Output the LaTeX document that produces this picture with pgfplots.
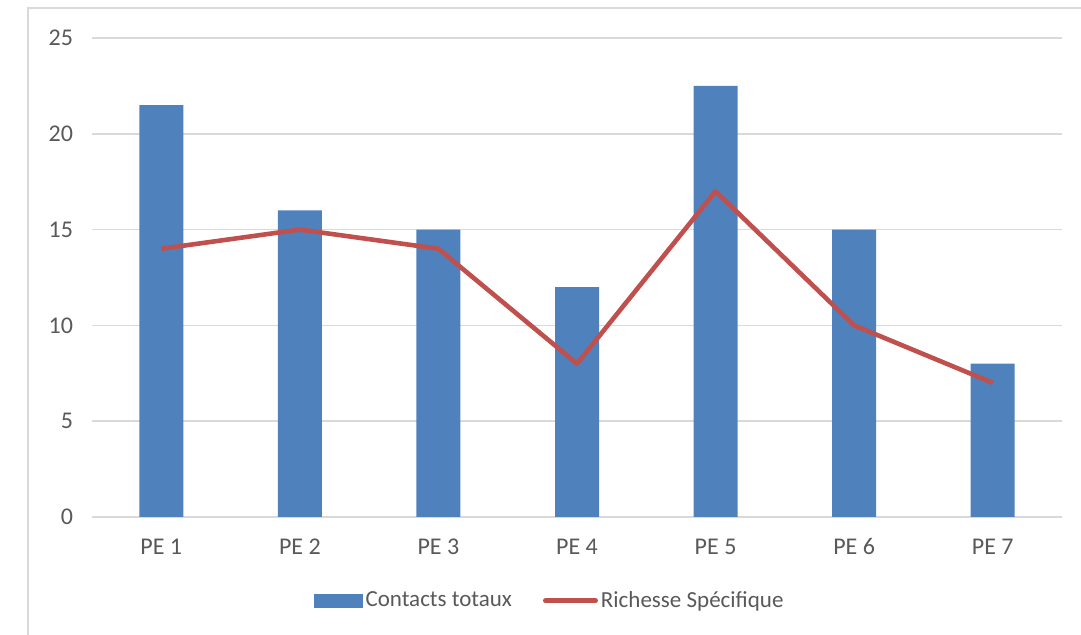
\documentclass[border=0pt]{standalone}
\usepackage{pgfplots}
\pgfplotsset{compat=1.18}
\usepackage{fontspec}
\setmainfont{Carlito}
\definecolor{barblue}{HTML}{4F81BD}
\definecolor{linered}{HTML}{C0504D}
\definecolor{gridgray}{HTML}{D9D9D9}
\definecolor{txtgray}{HTML}{595959}
\begin{document}
\begin{tikzpicture}[x=1pt,y=1pt]
\useasboundingbox (0,0) rectangle (540.5,317.5);
\draw[gridgray, line width=1pt] (14,0) -- (14,313.5) -- (540.5,313.5);
\begin{axis}[
  at={(46pt,59pt)}, anchor=south west,
  scale only axis, width=485pt, height=239.5pt,
  xmin=-0.5, xmax=6.5, ymin=0, ymax=25,
  xtick={0,1,2,3,4,5,6},
  xticklabels={PE 1,PE 2,PE 3,PE 4,PE 5,PE 6,PE 7},
  ytick={0,5,10,15,20,25},
  axis line style={draw=none},
  major tick style={draw=none},
  ymajorgrids, grid style={gridgray, line width=0.75pt},
  /pgf/number format/assume math mode=true,
  ticklabel style={font=\fontsize{12}{14}\selectfont, text=txtgray},
  yticklabel style={xshift=-6pt},
  xticklabel style={anchor=base, yshift=-19pt},
  legend style={at={(0.228,-0.175)}, anchor=west, draw=none, fill=none,
    inner sep=0pt, font=\fontsize{11.5}{14}\selectfont, text=txtgray,
    legend columns=2,
    /tikz/every even column/.append style={column sep=14pt},
    nodes={inner sep=1.5pt}},
  legend cell align=left,
]
\addplot[ybar, bar width=22pt, fill=barblue, draw=none,
  legend image code/.code={\fill[barblue] (0pt,-3.5pt) rectangle (24.5pt,3.5pt);}]
  coordinates {(0,21.5) (1,16) (2,15) (3,12) (4,22.5) (5,15) (6,8)};
\addlegendentry{Contacts totaux}
\addplot[sharp plot, linered, line width=2.3pt, line join=round, mark=none,
  legend image code/.code={\draw[linered, line width=2.5pt, line cap=round] (1pt,0pt) -- (26pt,0pt);}]
  coordinates {(0,14) (1,15) (2,14) (3,8) (4,17) (5,10) (6,7)};
\addlegendentry{Richesse Spécifique}
\end{axis}
\end{tikzpicture}
\end{document}
